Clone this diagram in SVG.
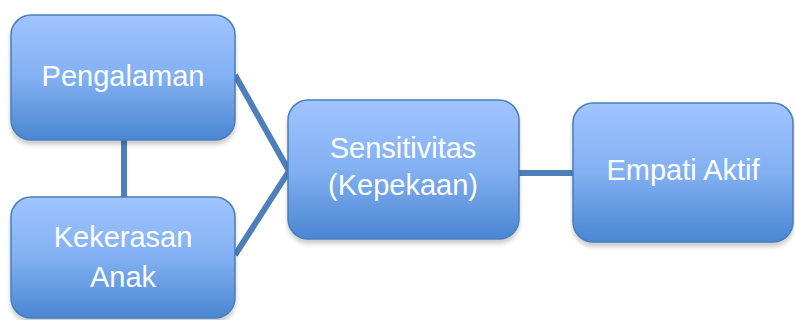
<svg xmlns="http://www.w3.org/2000/svg" width="795" height="320" viewBox="0 0 795 320">
<defs>
<linearGradient id="g" x1="0" y1="0" x2="0" y2="1">
<stop offset="0" stop-color="#A0C4FF"/>
<stop offset="0.5" stop-color="#82B0F2"/>
<stop offset="1" stop-color="#4A86D2"/>
</linearGradient>
<filter id="sh" x="-10%" y="-10%" width="120%" height="130%">
<feGaussianBlur in="SourceAlpha" stdDeviation="2"/>
<feOffset dx="0" dy="4" result="b"/>
<feComponentTransfer><feFuncA type="linear" slope="0.2"/></feComponentTransfer>
<feMerge><feMergeNode/><feMergeNode in="SourceGraphic"/></feMerge>
</filter>
</defs>
<style>
.box{fill:url(#g);stroke:#4A7EBB;stroke-width:1.5;filter:url(#sh)}
.t{font-family:"Liberation Sans",Arial,sans-serif;font-size:29px;fill:#FFFFFF;text-anchor:middle}
.c{stroke:#4F7FBA;stroke-width:6;fill:none;stroke-linecap:butt;stroke-linejoin:miter}
</style>
<rect width="795" height="320" fill="#FFFFFF"/>
<g id="connectors">
<line class="c" x1="124" y1="140" x2="124" y2="197"/>
<polyline class="c" points="235,75 289,171 235,255"/>
<line class="c" x1="519" y1="173" x2="573" y2="173"/>
</g>
<g id="pengalaman">
<rect class="box" x="11" y="15" width="224" height="125" rx="20"/>
<text class="t" x="123" y="86">Pengalaman</text>
</g>
<g id="kekerasan">
<rect class="box" x="11" y="197" width="224" height="121" rx="20"/>
<text class="t" x="123" y="247">Kekerasan</text>
<text class="t" x="123" y="287">Anak</text>
</g>
<g id="sensitivitas">
<rect class="box" x="288" y="100" width="231" height="139" rx="20"/>
<text class="t" x="403" y="158">Sensitivitas</text>
<text class="t" x="403" y="195">(Kepekaan)</text>
</g>
<g id="empati">
<rect class="box" x="573" y="103" width="220" height="139" rx="20"/>
<text class="t" x="683" y="180">Empati Aktif</text>
</g>
</svg>
